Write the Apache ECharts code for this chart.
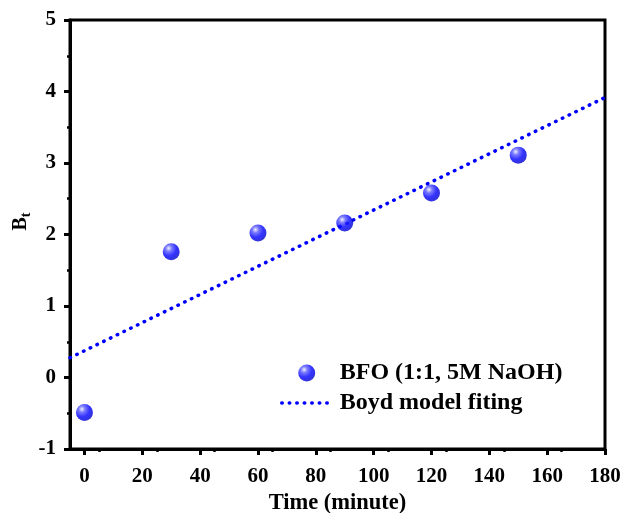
<!DOCTYPE html>
<html><head><meta charset="utf-8">
<script src="https://cdn.jsdelivr.net/npm/echarts@6/dist/echarts.min.js"></script>
<style>html,body{margin:0;padding:0;background:#fff}#c{width:622px;height:513px}</style>
</head><body><div id="c"></div>
<script>
const timeValues = [0, 30, 60, 90, 120, 150];
const btValues = [-0.49, 1.76, 2.02, 2.16, 2.58, 3.11];
const fitX = [-5, 180];
const fitY = [0.276, 3.916];
const seriesNames = ['BFO (1:1, 5M NaOH)', 'Boyd model fiting'];
const xTicks = [0, 20, 40, 60, 80, 100, 120, 140, 160, 180];
const yTicks = [-1, 0, 1, 2, 3, 4, 5];

const font = '"Liberation Serif", "Times New Roman", serif';
const chart = echarts.init(document.getElementById('c'));
const sphere = new echarts.graphic.RadialGradient(0.35, 0.3, 0.75, [
  {offset: 0, color: '#eeeeff'},
  {offset: 0.25, color: '#5a5aff'},
  {offset: 0.6, color: '#0000ff'},
  {offset: 1, color: '#0000c8'}
]);
const dotted = {color: '#0000ff', width: 3.5, type: [0.5, 7], cap: 'round'};
chart.setOption({
  animation: false,
  grid: {left: 70, right: 17, top: 20, bottom: 64, show: true, borderColor: '#000', borderWidth: 3,
    backgroundColor: 'transparent', containLabel: false, outerBoundsMode: 'none'},
  legend: {
    orient: 'vertical', left: 275, top: 356, itemGap: 6, itemWidth: 50, itemHeight: 17,
    textStyle: {fontFamily: font, fontWeight: 'bold', fontSize: 24, color: '#000', padding: [0, 0, 0, 3]},
    data: [
      {name: seriesNames[0], icon: 'circle', itemStyle: {color: sphere}},
      {name: seriesNames[1], itemStyle: {opacity: 0}, lineStyle: dotted}
    ]
  },
  xAxis: {
    type: 'value', min: -5, max: 180, interval: 20,
    name: 'Time (minute)', nameLocation: 'middle', nameGap: 42,
    nameTextStyle: {fontFamily: font, fontWeight: 'bold', fontSize: 22.5, color: '#000'},
    axisLine: {onZero: false, lineStyle: {color: '#000', width: 3}},
    axisTick: {show: true, inside: false, length: 6, lineStyle: {width: 3, color: '#000'},
      customValues: xTicks},
    minorTick: {show: true, splitNumber: 2, length: 3, lineStyle: {width: 2.5, color: '#000'}},
    axisLabel: {fontFamily: font, fontWeight: 'bold', fontSize: 21, color: '#000', margin: 17,
      customValues: xTicks},
    splitLine: {show: false}
  },
  yAxis: {
    type: 'value', min: -1, max: 5, interval: 1,
    name: '{b|B}{s|t}', nameLocation: 'middle', nameGap: 37, nameRotate: 90, nameMoveOverlap: false,
    nameTextStyle: {fontFamily: font, fontWeight: 'bold', fontSize: 20, color: '#000', padding: [0, 0, 0, 26],
      rich: {b: {fontFamily: font, fontWeight: 'bold', fontSize: 20, color: '#000', lineHeight: 22, verticalAlign: 'top'},
             s: {fontFamily: font, fontWeight: 'bold', fontSize: 14, color: '#000', lineHeight: 14, verticalAlign: 'bottom', padding: [10,0,0,0]}}},
    axisLine: {onZero: false, lineStyle: {color: '#000', width: 3}},
    axisTick: {show: true, inside: false, length: 6, lineStyle: {width: 3, color: '#000'}},
    minorTick: {show: true, splitNumber: 2, length: 3, lineStyle: {width: 2.5, color: '#000'}},
    axisLabel: {fontFamily: font, fontWeight: 'bold', fontSize: 21, color: '#000', margin: 14,
      customValues: yTicks},
    splitLine: {show: false}
  },
  series: [
    {name: seriesNames[0], type: 'scatter', symbol: 'circle', symbolSize: 17,
      itemStyle: {color: sphere},
      data: timeValues.map((t, i) => [t, btValues[i]]), z: 5},
    {name: seriesNames[1], type: 'line', symbol: 'none', showSymbol: false,
      lineStyle: dotted,
      itemStyle: {color: '#0000ff'},
      data: fitX.map((x, i) => [x, fitY[i]]), z: 3}
  ]
});
</script></body></html>
